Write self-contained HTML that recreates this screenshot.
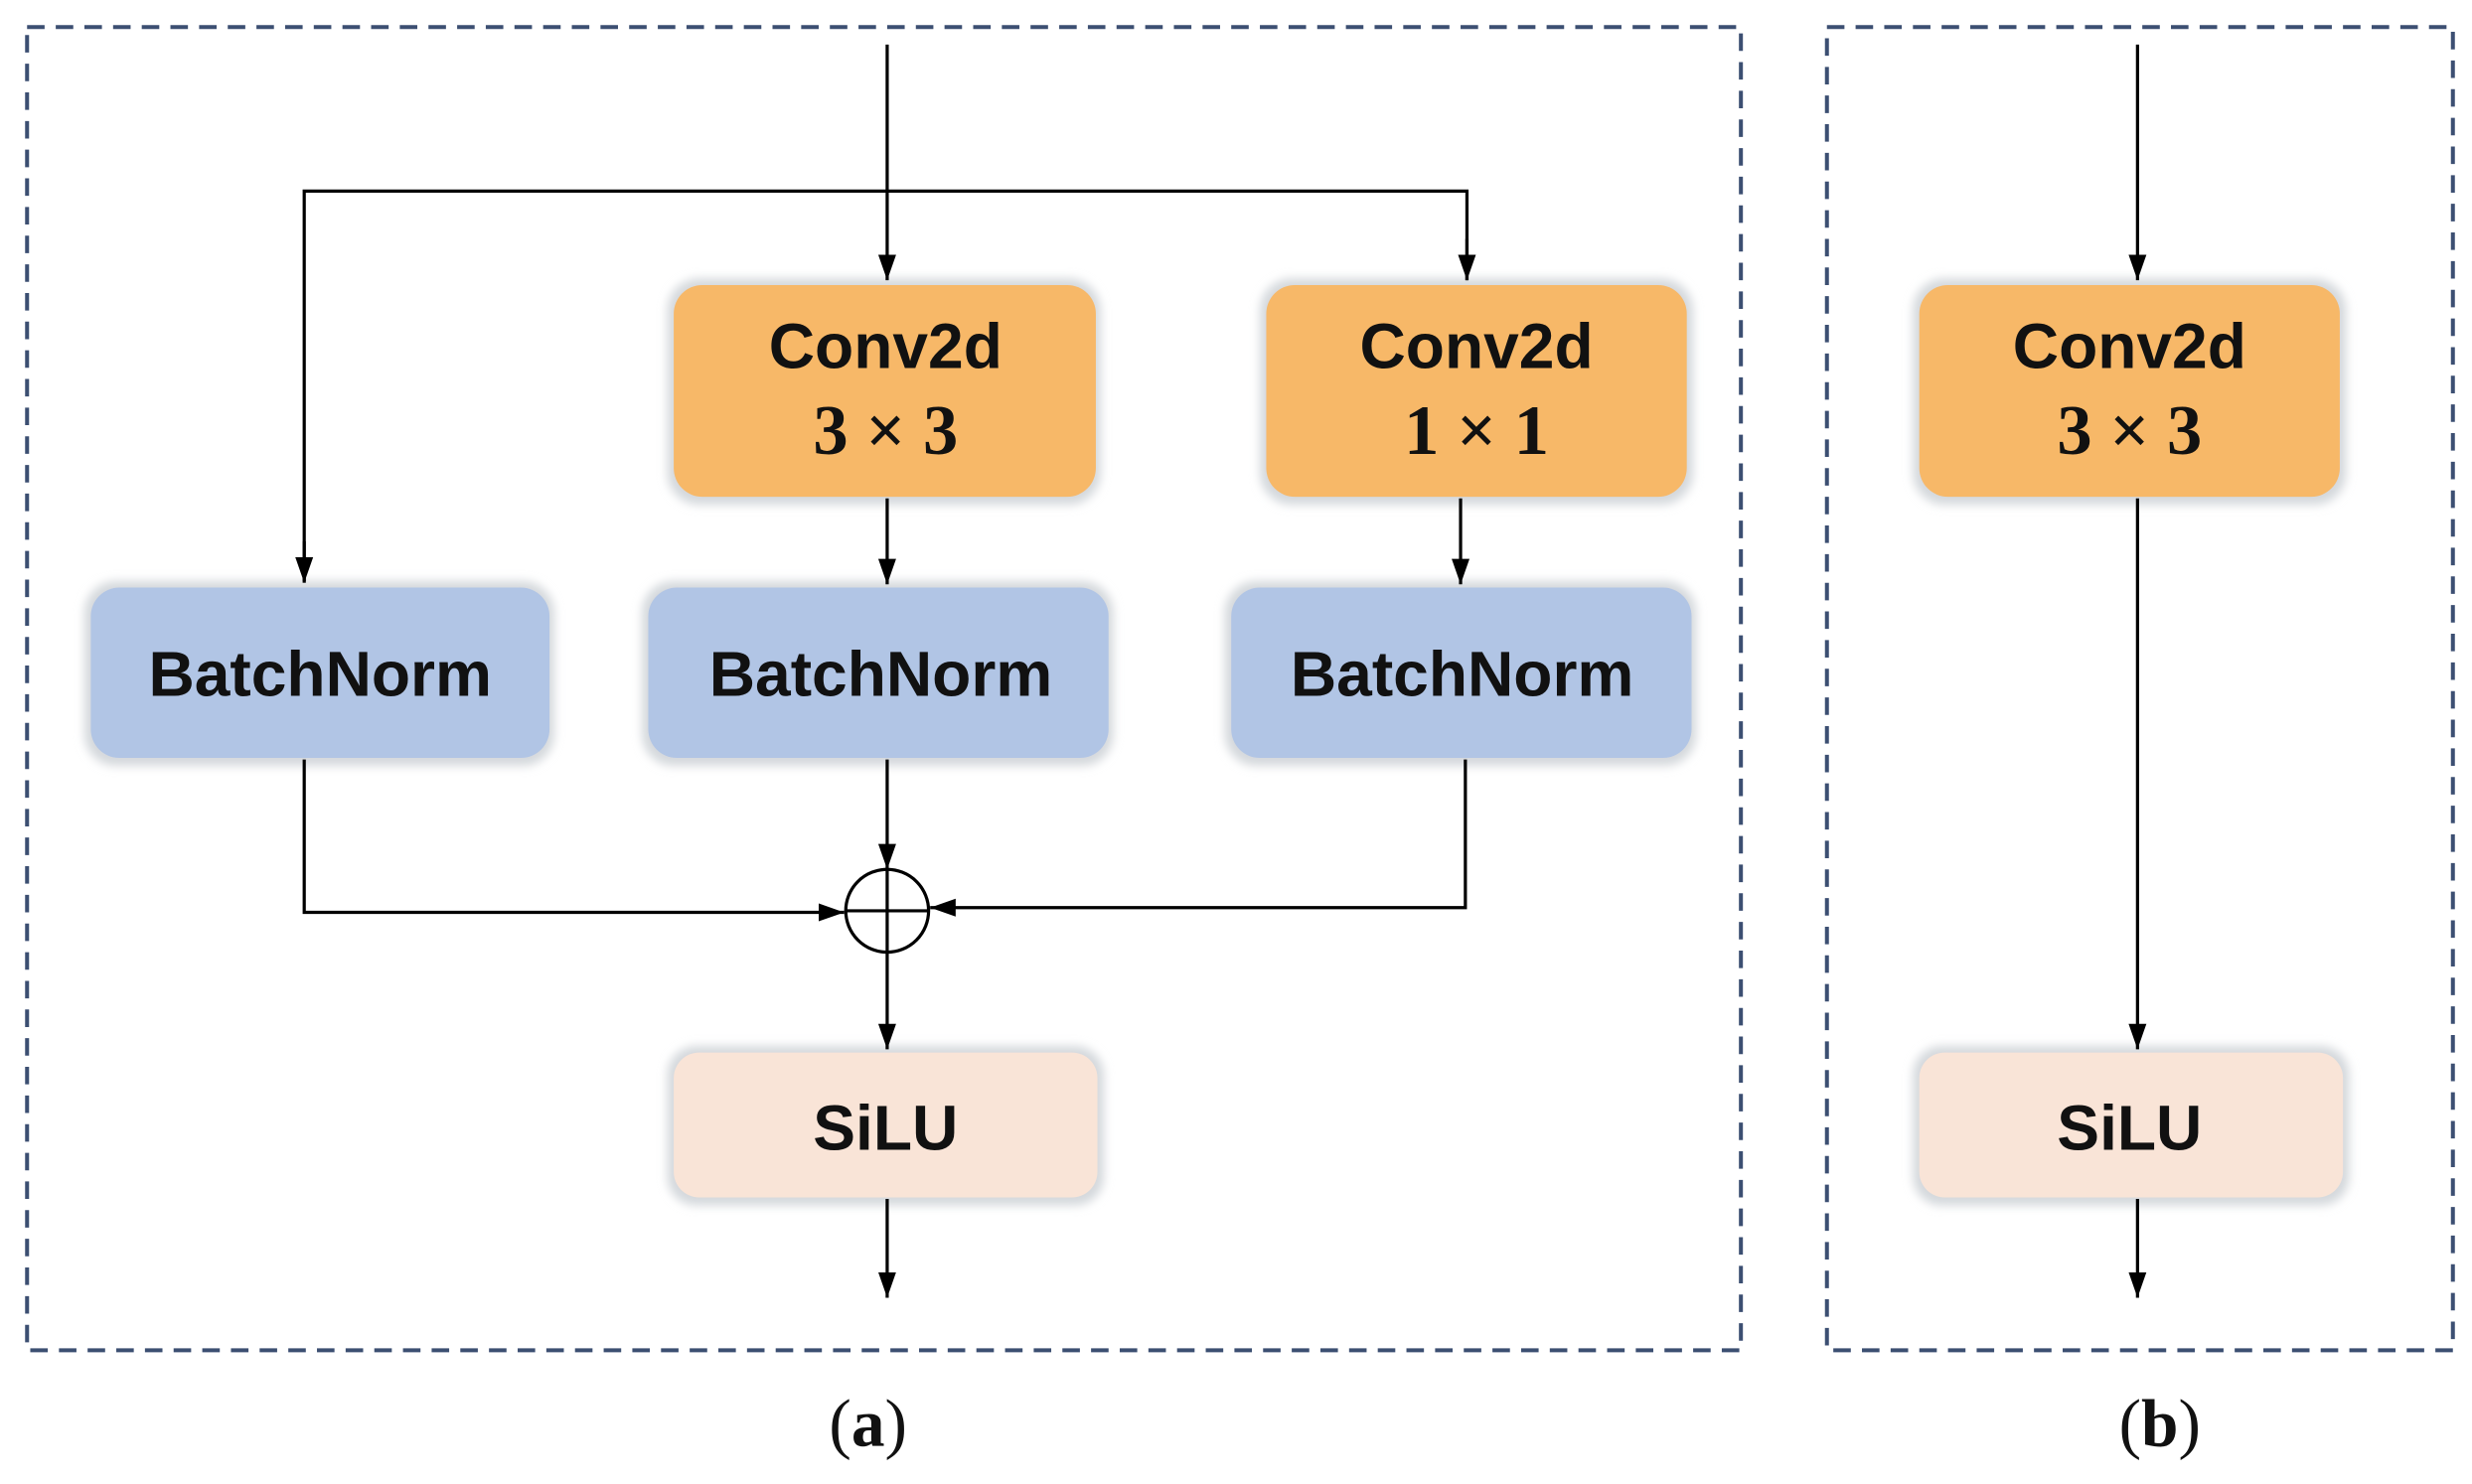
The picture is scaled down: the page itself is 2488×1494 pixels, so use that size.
<!DOCTYPE html>
<html><head><style>
html,body{margin:0;padding:0;background:#fff;}
svg{display:block;}
.t{font-family:"Liberation Sans",sans-serif;font-weight:bold;font-size:40px;fill:#111;text-anchor:middle;}
.m{font-family:"Liberation Serif",serif;font-weight:bold;font-size:44px;fill:#111;text-anchor:middle;}
.l{font-family:"Liberation Serif",serif;font-size:42px;fill:#111;text-anchor:middle;}
</style></head><body>
<svg width="2488" height="1494" viewBox="0 0 1552 932" preserveAspectRatio="none" xmlns="http://www.w3.org/2000/svg">
<defs>
<marker id="b" viewBox="0 0 10 10" refX="10" refY="5" markerWidth="16" markerHeight="16" markerUnits="userSpaceOnUse" orient="auto"><path d="M0,1.5L10,5L0,8.5z" fill="#000"/></marker>
<filter id="s" x="-10%" y="-10%" width="120%" height="130%"><feGaussianBlur stdDeviation="3"/></filter>
</defs>
<g fill="none" stroke="#3c4f72" stroke-width="2.5" stroke-dasharray="11,7">
<rect x="17" y="17" width="1076" height="831"/>
<rect x="1147" y="17" width="393" height="831"/>
</g>
<g fill="#d4d8dc" filter="url(#s)">
<rect x="419" y="175" width="272" height="142" rx="20"/>
<rect x="791" y="175" width="272" height="142" rx="20"/>
<rect x="1201" y="175" width="272" height="142" rx="20"/>
<rect x="53" y="365" width="295" height="116" rx="20"/>
<rect x="403" y="365" width="296" height="116" rx="20"/>
<rect x="769" y="365" width="296" height="116" rx="20"/>
<rect x="419" y="657" width="274" height="100" rx="18"/>
<rect x="1201" y="657" width="274" height="100" rx="18"/>
</g>
<g fill="#f7b868">
<rect x="423" y="179" width="265" height="133" rx="18"/>
<rect x="795" y="179" width="264" height="133" rx="18"/>
<rect x="1205" y="179" width="264" height="133" rx="18"/>
</g>
<g fill="#b1c5e5">
<rect x="57" y="369" width="288" height="107" rx="18"/>
<rect x="407" y="369" width="289" height="107" rx="18"/>
<rect x="773" y="369" width="289" height="107" rx="18"/>
</g>
<g fill="#f9e4d7">
<rect x="423" y="661" width="266" height="91" rx="16"/>
<rect x="1205" y="661" width="266" height="91" rx="16"/>
</g>
<text class="t" x="556" y="231">Conv2d</text>
<text class="m" x="556" y="285">3 × 3</text>
<text class="t" x="927" y="231">Conv2d</text>
<text class="m" x="927" y="285">1 × 1</text>
<text class="t" x="1337" y="231">Conv2d</text>
<text class="m" x="1337" y="285">3 × 3</text>
<text class="t" x="201" y="437">BatchNorm</text>
<text class="t" x="553" y="437">BatchNorm</text>
<text class="t" x="918" y="437">BatchNorm</text>
<text class="t" x="556" y="722">SiLU</text>
<text class="t" x="1337" y="722">SiLU</text>
<g stroke="#000" stroke-width="2" fill="none">
<line x1="557" y1="28" x2="557" y2="176" marker-end="url(#b)"/>
<polyline points="191,365 191,120 921,120 921,176" />
<line x1="191" y1="340" x2="191" y2="366" marker-end="url(#b)"/>
<line x1="921" y1="150" x2="921" y2="176" marker-end="url(#b)"/>
<line x1="557" y1="313" x2="557" y2="367" marker-end="url(#b)"/>
<line x1="917" y1="313" x2="917" y2="367" marker-end="url(#b)"/>
<line x1="557" y1="477" x2="557" y2="546" marker-end="url(#b)"/>
<polyline points="191,477 191,573 530,573" marker-end="url(#b)"/>
<polyline points="920,477 920,570 584,570" marker-end="url(#b)"/>
<circle cx="557" cy="572" r="26"/>
<line x1="531" y1="572" x2="583" y2="572"/>
<line x1="557" y1="546" x2="557" y2="598"/>
<line x1="557" y1="598" x2="557" y2="659" marker-end="url(#b)"/>
<line x1="557" y1="753" x2="557" y2="815" marker-end="url(#b)"/>
<line x1="1342" y1="28" x2="1342" y2="176" marker-end="url(#b)"/>
<line x1="1342" y1="313" x2="1342" y2="659" marker-end="url(#b)"/>
<line x1="1342" y1="753" x2="1342" y2="815" marker-end="url(#b)"/>
</g>
<text class="l" x="545" y="908">(<tspan font-weight="bold">a</tspan>)</text>
<text class="l" x="1356" y="908">(<tspan font-weight="bold">b</tspan>)</text>
</svg>
</body></html>
